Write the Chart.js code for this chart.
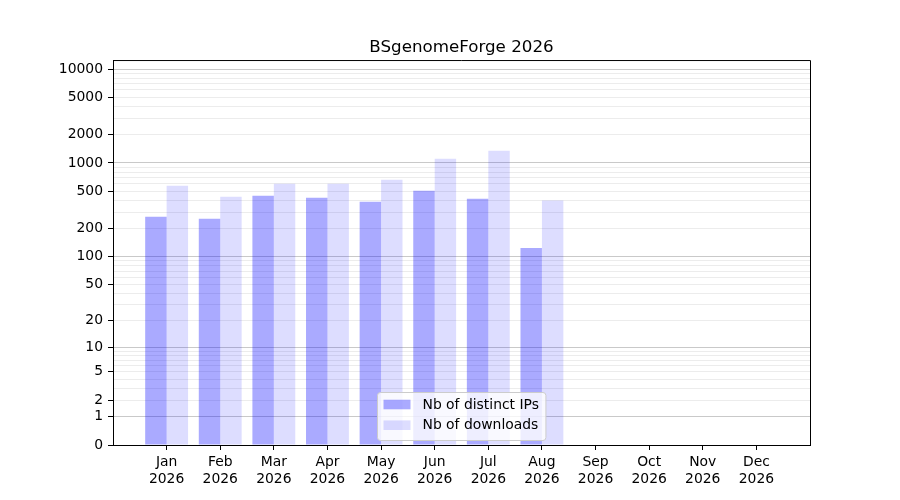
<!DOCTYPE html>
<html><head><meta charset="utf-8">
<script src="https://cdn.jsdelivr.net/npm/chart.js@4.4.1/dist/chart.umd.min.js"></script>
<style>html,body{margin:0;padding:0;background:#fff}</style>
</head><body>
<canvas id="c" width="900" height="500"></canvas>
<script>
// ---- data ----
const chartTitle = 'BSgenomeForge 2026';
const months = ['Jan','Feb','Mar','Apr','May','Jun','Jul','Aug','Sep','Oct','Nov','Dec'];
const year = '2026';
const seriesNames = ['Nb of distinct IPs', 'Nb of downloads'];
const distinctIPs = [267, 254, 447, 426, 386, 506, 415, 124];
const downloads = [572, 436, 600, 600, 662, 1108, 1349, 398];
const yTickLabels = [0, 1, 2, 5, 10, 20, 50, 100, 200, 500, 1000, 2000, 5000, 10000];
const yMajorGrid = [1, 10, 100, 1000, 10000];
const yMinorMultipliers = [2, 3, 4, 5, 6, 7, 8, 9];
const yDecades = [1, 10, 100, 1000];
const yMax = 12470;

const FONT = "'DejaVu Sans', sans-serif";
const ipColor = 'rgba(0,0,255,0.335)';
const dlColor = 'rgba(0,0,255,0.135)';

// symmetric-log-like scale: position follows log10(1 + v)
class Log1pScale extends Chart.LinearScale {
  determineDataLimits() {
    this.min = 0;
    this.max = this.options.max;
  }
  buildTicks() {
    const vals = new Set([0, ...yMajorGrid, ...yTickLabels]);
    yDecades.forEach(d => yMinorMultipliers.forEach(m => vals.add(d * m)));
    return [...vals].filter(v => v <= this.max).sort((a, b) => a - b).map(v => ({ value: v }));
  }
  configure() {
    super.configure();
    this._tMin = Math.log10(1 + this.min);
    this._tMax = Math.log10(1 + this.max);
  }
  getPixelForValue(value) {
    if (value === null || value === undefined || isNaN(value)) return NaN;
    return this.getPixelForDecimal((Math.log10(1 + Math.max(0, value)) - this._tMin) / (this._tMax - this._tMin));
  }
  getValueForPixel(pixel) {
    const d = this.getDecimalForPixel(pixel);
    return Math.pow(10, this._tMin + d * (this._tMax - this._tMin)) - 1;
  }
}
Log1pScale.id = 'log1p';
Log1pScale.defaults = {};
Chart.register(Log1pScale);

const framePlugin = {
  id: 'frameAndLegend',
  afterDatasetsDraw(chart) {
    const { ctx, chartArea: a } = chart;
    ctx.save();
    // legend (lower center inside plot area)
    ctx.font = '13.9px ' + FONT;
    const tw = Math.max(...seriesNames.map(s => ctx.measureText(s).width));
    const w = 6 + 27 + 12 + tw + 7;
    const h = 48;
    const x0 = Math.round((a.left + a.right) / 2 - w / 2) + 0.5;
    const y0 = a.bottom - 5 - h + 0.5;
    const r = 3;
    ctx.beginPath();
    ctx.moveTo(x0 + r, y0);
    ctx.lineTo(x0 + w - r, y0); ctx.quadraticCurveTo(x0 + w, y0, x0 + w, y0 + r);
    ctx.lineTo(x0 + w, y0 + h - r); ctx.quadraticCurveTo(x0 + w, y0 + h, x0 + w - r, y0 + h);
    ctx.lineTo(x0 + r, y0 + h); ctx.quadraticCurveTo(x0, y0 + h, x0, y0 + h - r);
    ctx.lineTo(x0, y0 + r); ctx.quadraticCurveTo(x0, y0, x0 + r, y0);
    ctx.closePath();
    ctx.fillStyle = 'rgba(255,255,255,0.8)';
    ctx.fill();
    ctx.strokeStyle = '#cccccc';
    ctx.lineWidth = 1;
    ctx.stroke();
    chart.data.datasets.forEach((ds, i) => {
      const cy = y0 + 12 + i * 20.7;
      ctx.fillStyle = ds.backgroundColor;
      ctx.fillRect(x0 + 6, cy - 4.8, 27, 9.6);
      ctx.fillStyle = '#000';
      ctx.textBaseline = 'middle';
      ctx.textAlign = 'left';
      ctx.fillText(ds.label, x0 + 45, cy + 0.5);
    });
    // top and right spines
    ctx.strokeStyle = '#000';
    ctx.lineWidth = 1;
    ctx.beginPath();
    ctx.moveTo(a.left, a.top + 0.5); ctx.lineTo(a.right + 0.5, a.top + 0.5); ctx.lineTo(a.right + 0.5, a.bottom);
    ctx.stroke();
    ctx.restore();
  }
};

const isLabeled = v => yTickLabels.includes(v);

new Chart(document.getElementById('c'), {
  type: 'bar',
  data: {
    datasets: [
      { label: seriesNames[0], data: distinctIPs.map((v, i) => ({ x: i, y: v })), backgroundColor: ipColor, borderWidth: 0 },
      { label: seriesNames[1], data: downloads.map((v, i) => ({ x: i, y: v })), backgroundColor: dlColor, borderWidth: 0 }
    ]
  },
  options: {
    responsive: false,
    animation: false,
    devicePixelRatio: 1,
    categoryPercentage: 0.8,
    barPercentage: 1.0,
    layout: { padding: { left: 0, right: 90, top: 0, bottom: 0 } },
    plugins: {
      legend: { display: false },
      tooltip: { enabled: false },
      title: {
        display: true, text: chartTitle, fullSize: false, color: '#000',
        font: { family: FONT, size: 16.7, weight: 'normal', lineHeight: 1.2 },
        padding: { top: 37.2, bottom: 2.8 }
      }
    },
    scales: {
      x: {
        type: 'linear', min: -1, max: 12, offset: false,
        afterBuildTicks: s => { s.ticks = months.map((m, i) => ({ value: i })); },
        afterFit: s => { s.height = 55; },
        grid: { display: true, drawOnChartArea: false, offset: false, tickLength: 5, tickColor: '#000', tickWidth: 1 },
        border: { display: true, color: '#000', width: 1 },
        ticks: {
          autoSkip: false, maxRotation: 0, padding: 4.5, color: '#000',
          font: { family: FONT, size: 13.9, lineHeight: 1.18 },
          callback: v => [months[v], year]
        }
      },
      y: {
        type: 'log1p', max: yMax,
        afterFit: s => { s.width = 113; },
        grid: {
          color: c => {
            const v = c.tick.value;
            if (v === 0) return 'rgba(0,0,0,0)';
            return yMajorGrid.includes(v) ? '#c9c9c9' : '#ececec';
          },
          lineWidth: 1,
          tickLength: 5,
          tickColor: c => isLabeled(c.tick.value) ? '#000' : 'rgba(0,0,0,0)',
          tickWidth: 1
        },
        border: { display: true, color: '#000', width: 1 },
        ticks: {
          autoSkip: false, padding: 5, color: '#000',
          font: { family: FONT, size: 13.9 },
          callback: v => isLabeled(v) ? String(v) : ''
        }
      }
    }
  },
  plugins: [framePlugin]
});
</script>
</body></html>
